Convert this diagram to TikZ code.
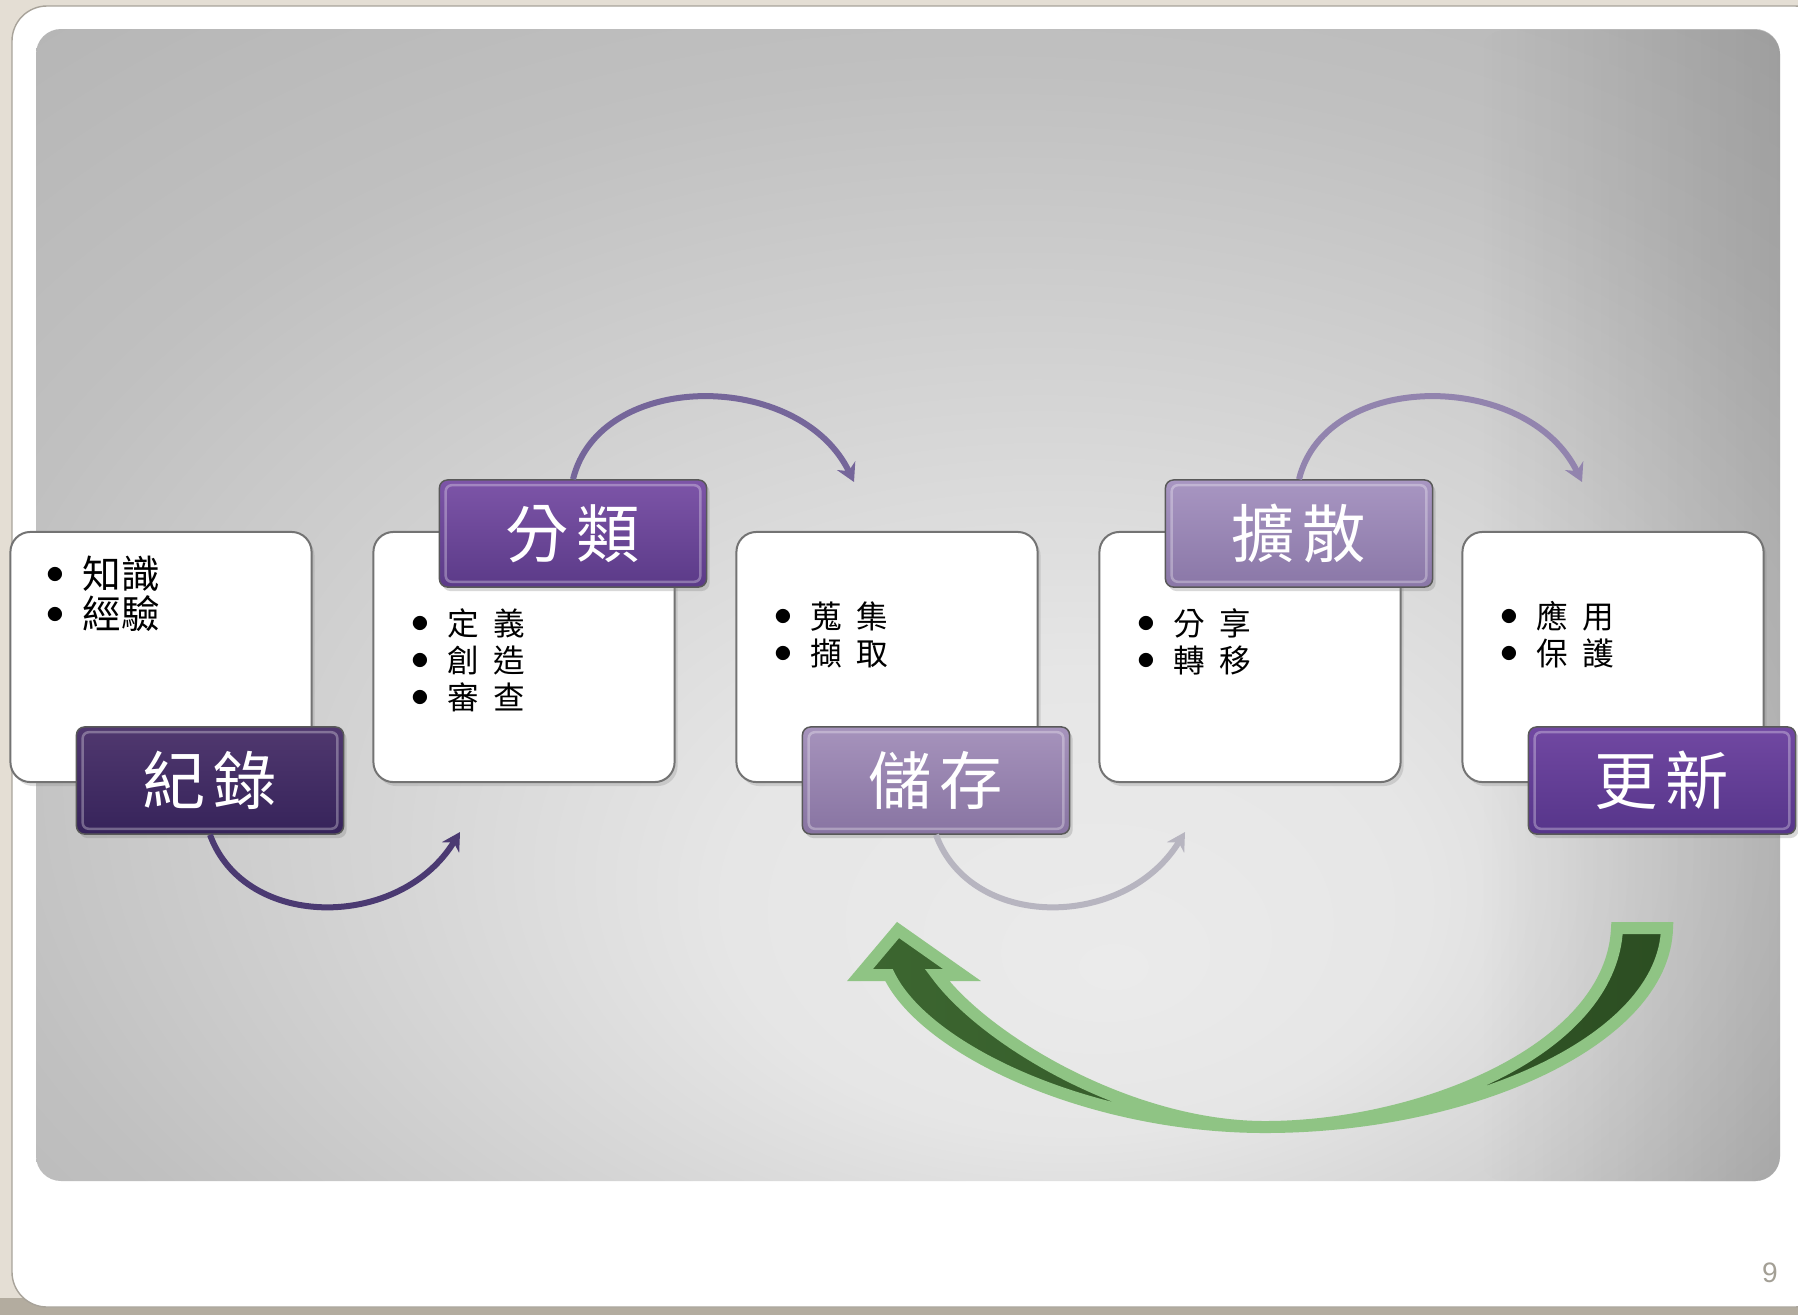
\documentclass[tikz,border=0pt]{standalone}
\usepackage{fontspec}
\setsansfont{Liberation Sans}
\newfontfamily\cjk{Noto Sans CJK TC}
\usetikzlibrary{arrows.meta}
\usetikzlibrary{calc}
\usetikzlibrary{shadows}
\usetikzlibrary{fadings}

\definecolor{pagebg}{HTML}{E4DED4}
\definecolor{stripcol}{HTML}{B3AC9F}
\definecolor{cardline}{HTML}{A8A39A}
\definecolor{pagenum}{HTML}{A39F95}
\definecolor{panelA}{HTML}{EBEBEB}
\definecolor{panelB}{HTML}{E6E6E6}
\definecolor{panelC}{HTML}{D3D3D3}
\definecolor{panelD}{HTML}{C0C0C0}
\definecolor{panelE}{HTML}{B3B3B3}
\definecolor{panelF}{HTML}{A2A2A2}
\definecolor{recA}{HTML}{50386F}
\definecolor{recB}{HTML}{36235A}
\definecolor{clsA}{HTML}{7D55A8}
\definecolor{clsB}{HTML}{5B3A88}
\definecolor{stoA}{HTML}{A693BC}
\definecolor{stoB}{HTML}{8874A2}
\definecolor{difA}{HTML}{A896C2}
\definecolor{difB}{HTML}{8A77A7}
\definecolor{updA}{HTML}{7148A2}
\definecolor{updB}{HTML}{56358A}
\definecolor{arcA}{HTML}{4B3A72}
\definecolor{arcB}{HTML}{75669A}
\definecolor{arcC}{HTML}{B7B5C0}
\definecolor{arcD}{HTML}{9284AE}
\definecolor{glight}{HTML}{8FC484}
\definecolor{gdarkA}{HTML}{3C6630}
\definecolor{gdarkB}{HTML}{2C4E22}

\pgfdeclareradialshading{panelglow}{\pgfpoint{6bp}{-16bp}}{color(0bp)=(panelA); color(10bp)=(panelB); color(20bp)=(panelC); color(30bp)=(panelD); color(42bp)=(panelE); color(52bp)=(panelF)}
\tikzfading[name=rightdark, left color=transparent!100, right color=transparent!0]

\newcommand{\itemdot}{\raisebox{0.19em}{\fontsize{4.5}{5}\selectfont ●}\hspace{0.2cm}}

\begin{document}
\begin{tikzpicture}[x=0.01cm,y=-0.01cm,
  itembox/.style={draw=black!55, line width=0.02cm, fill=white, rounded corners=0.2cm,
    minimum width=3.01cm, minimum height=2.5cm,
    drop shadow={opacity=0.25, shadow xshift=0.03cm, shadow yshift=-0.04cm}},
  tagbox/.style={draw=black!65, line width=0.015cm, rounded corners=0.08cm,
    minimum width=2.67cm, minimum height=1.07cm, text=white,
    font=\cjk\fontsize{18}{20}\selectfont,
    drop shadow={opacity=0.3, shadow xshift=0.03cm, shadow yshift=-0.04cm}},
  itemlist/.style={anchor=north west, inner sep=0, align=left},
  flow/.style={line width=0.06cm, -{Stealth[length=0.18cm, width=0.2cm]}},
]
\useasboundingbox (0,0) rectangle (1798,1315);
\fill[pagebg] (0,0) rectangle (1798,1315);
\fill[stripcol] (0,1298) rectangle (1798,1315);
\filldraw[draw=cardline, fill=white, rounded corners=0.35cm] (12,6) rectangle (1830,1307);
\path[shading=panelglow, rounded corners=0.25cm] (36,29) rectangle (1780,1181);
\fill[black, opacity=0.14, path fading=rightdark, rounded corners=0.25cm] (1480,29) rectangle (1780,1181);

% white boxes
\foreach \i/\cx in {1/161,2/524,3/887,4/1250,5/1613}
  \node[itembox] (b\i) at (\cx,657) {};

% bullet texts
\node[itemlist, font=\cjk\fontsize{11}{11.4}\selectfont] (t1) at ([shift={(37,24)}]b1.north west)
  {\itemdot 知識\\ \itemdot 經驗};
\node[itemlist, font=\cjk\fontsize{9}{10.5}\selectfont] (t2) at ([shift={(39,77)}]b2.north west)
  {\itemdot 定\hspace{0.45em}義\\ \itemdot 創\hspace{0.45em}造\\ \itemdot 審\hspace{0.45em}查};
\node[itemlist, font=\cjk\fontsize{9}{10.5}\selectfont] (t3) at ([shift={(39,70)}]b3.north west)
  {\itemdot 蒐\hspace{0.45em}集\\ \itemdot 擷\hspace{0.45em}取};
\node[itemlist, font=\cjk\fontsize{9}{10.5}\selectfont] (t4) at ([shift={(39,77)}]b4.north west)
  {\itemdot 分\hspace{0.45em}享\\ \itemdot 轉\hspace{0.45em}移};
\node[itemlist, font=\cjk\fontsize{9}{10.5}\selectfont] (t5) at ([shift={(39,70)}]b5.north west)
  {\itemdot 應\hspace{0.45em}用\\ \itemdot 保\hspace{0.45em}護};

% step labels
\node[tagbox, top color=recA, bottom color=recB] (rec) at ([shift={(49,123.5)}]b1.center) {紀\hspace{0.12em}錄};
\node[tagbox, top color=clsA, bottom color=clsB] (cls) at ([shift={(49,-123.5)}]b2.center) {分\hspace{0.12em}類};
\node[tagbox, top color=stoA, bottom color=stoB] (sto) at ([shift={(49,123.5)}]b3.center) {儲\hspace{0.12em}存};
\node[tagbox, top color=difA, bottom color=difB] (dif) at ([shift={(49,-123.5)}]b4.center) {擴\hspace{0.12em}散};
\node[tagbox, top color=updA, bottom color=updB] (upd) at ([shift={(49,123.5)}]b5.center) {更\hspace{0.12em}新};
% bevel shine
\foreach \n in {rec,cls,sto,dif,upd}
  \draw[white, opacity=0.3, line width=0.025cm, rounded corners=0.06cm]
    ([shift={(7,6)}]\n.north west) rectangle ([shift={(-7,-6)}]\n.south east);

% arc ends
\coordinate (e1) at ([shift={(-64,175)}]b2.center);
\coordinate (e2) at ([shift={(-33,-175)}]b3.center);
\coordinate (e3) at ([shift={(-65,175)}]b4.center);
\coordinate (e4) at ([shift={(-31,-175)}]b5.center);

\draw[flow, arcA] (rec.south) .. controls +(35,96) and +(-60,98) .. (e1);
\draw[flow, arcB] (cls.north) .. controls +(27,-110) and +(-54,-112) .. (e2);
\draw[flow, arcC] (sto.south) .. controls +(35,96) and +(-60,98) .. (e3);
\draw[flow, arcD] (dif.north) .. controls +(27,-110) and +(-54,-112) .. (e4);

% big return arrow
\path[draw=glight, line width=0.12cm, line join=miter, left color=gdarkA, right color=gdarkB]
  (1667,928) .. controls (1664,1040) and (1470,1127) .. (1265,1127)
  .. controls (1090,1127) and (925,1050) .. (889,975)
  -- (860,975) -- (898,930) -- (962,975) -- (937,975)
  .. controls (985,1040) and (1130,1127) .. (1265,1127)
  .. controls (1420,1127) and (1612,1050) .. (1617,928) -- cycle;

\node[text=pagenum, font=\sffamily\fontsize{8}{9}\selectfont] (pg) at (1770,1273) {9};
\end{tikzpicture}
\end{document}
